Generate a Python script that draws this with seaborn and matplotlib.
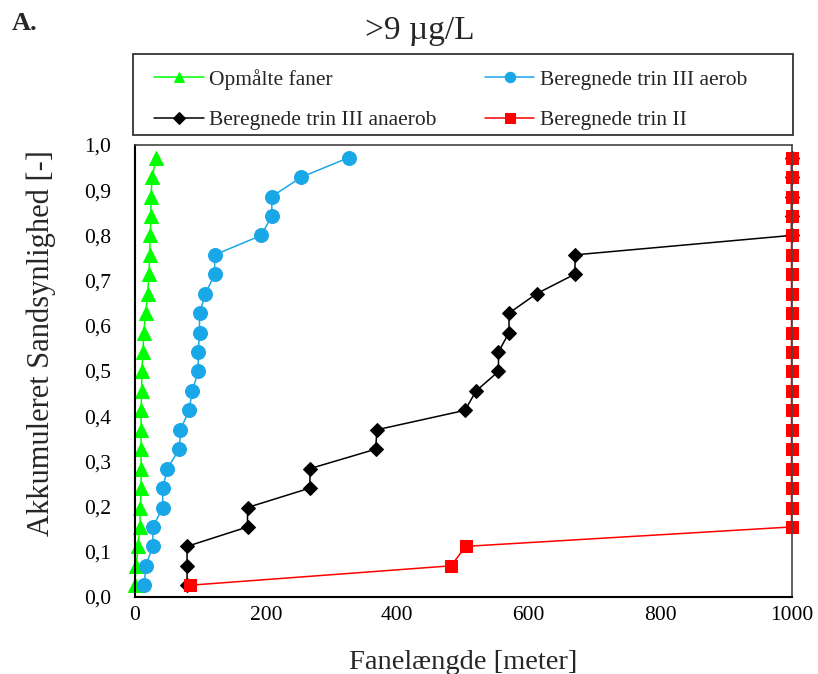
import matplotlib
matplotlib.use("Agg")
import matplotlib.pyplot as plt
from matplotlib.patches import Rectangle
import seaborn as sns
import pandas as pd

# ---- data ----
prob = [0.026, 0.069, 0.112, 0.155, 0.198, 0.241, 0.284, 0.327, 0.370, 0.413, 0.456, 0.499,
        0.542, 0.585, 0.628, 0.671, 0.714, 0.757, 0.800, 0.843, 0.886, 0.929, 0.972]

opmaalte = [0, 3, 5, 8, 9, 10, 10, 10, 10, 10, 11, 11, 13, 14, 17, 20, 22, 23, 24, 25, 25, 27, 33]
aerob = [15, 17, 28, 28, 43, 43, 50, 68, 70, 83, 88, 97, 97, 99, 99, 108, 122, 122, 193, 209, 209, 254, 326]
anaerob = [80, 80, 80, 172, 172, 267, 267, 367, 369, 503, 520, 554, 554, 570, 570, 612, 670, 671,
           1000, 1000, 1000, 1000, 1000]
trin2 = [84, 482, 504, 1000, 1000, 1000, 1000, 1000, 1000, 1000, 1000, 1000, 1000, 1000, 1000,
         1000, 1000, 1000, 1000, 1000, 1000, 1000, 1000]

series_names = ["Opmålte faner", "Beregnede trin III aerob", "Beregnede trin III anaerob", "Beregnede trin II"]
x_ticks = [0, 200, 400, 600, 800, 1000]
y_ticks = [0.0, 0.1, 0.2, 0.3, 0.4, 0.5, 0.6, 0.7, 0.8, 0.9, 1.0]
y_tick_labels = ["0,0", "0,1", "0,2", "0,3", "0,4", "0,5", "0,6", "0,7", "0,8", "0,9", "1,0"]
title = ">9 µg/L"
panel = "A."
xlabel = "Fanelængde [meter]"
ylabel = "Akkumuleret Sandsynlighed [-]"

# ---- style ----
sns.set_theme(style="white")
plt.rcParams["font.family"] = ["Liberation Serif", "DejaVu Serif"]

W, H = 818, 674
fig = plt.figure(figsize=(W / 100, H / 100), dpi=100)
ax = fig.add_axes([134.5 / W, 77 / H, (791.5 - 134.5) / W, (597 - 145) / H])

styles = [
    dict(color="#00FF00", marker="^", markersize=9.5, lw=1.1),
    dict(color="#1AA7E8", marker="o", markersize=10, lw=1.1),
    dict(color="#000000", marker="D", markersize=7.5, lw=1.1),
    dict(color="#FF0000", marker="s", markersize=9, lw=1.1),
]
xs = [opmaalte, aerob, anaerob, trin2]
for name, xv, st in zip(series_names, xs, styles):
    df = pd.DataFrame({"x": xv, "y": prob})
    sns.lineplot(data=df, x="x", y="y", ax=ax, sort=False, estimator=None,
                 color=st["color"], marker=st["marker"], markersize=st["markersize"],
                 markeredgecolor=st["color"], linewidth=st["lw"], label=name,
                 clip_on=False)

ax.set_xlim(0, 1000)
ax.set_ylim(0, 1.0)
ax.set_xticks(x_ticks)
ax.set_xticklabels([str(t) for t in x_ticks])
ax.set_yticks(y_ticks)
ax.set_yticklabels(y_tick_labels)
ax.tick_params(axis="x", direction="inout", length=7, width=1, colors="black", labelsize=15.5, pad=3)
ax.tick_params(axis="y", direction="out", length=5, width=1, colors="black", labelsize=15.5, pad=12)
for s in ["left", "bottom"]:
    ax.spines[s].set_color("black")
    ax.spines[s].set_linewidth(1.5)
for s in ["top", "right"]:
    ax.spines[s].set_color("#444444")
    ax.spines[s].set_linewidth(1.2)
ax.set_xlabel(xlabel, fontsize=20.5, labelpad=18)
ax.set_ylabel(ylabel, fontsize=22)
ax.yaxis.set_label_coords(-0.12, 0.562)
ax.grid(False)

# legend: Excel row-major order -> matplotlib column-major
h, l = ax.get_legend_handles_labels()
order = [0, 2, 1, 3]
if ax.get_legend():
    ax.get_legend().remove()
fs_leg = 15.5
leg = fig.legend([h[i] for i in order], [l[i] for i in order], ncol=2,
                 loc="upper left", bbox_to_anchor=(154 / W, 1 - 69 / H),
                 frameon=False, fontsize=fs_leg, markerscale=0.75,
                 handlelength=2.3, handletextpad=0.25, borderaxespad=0, borderpad=0,
                 columnspacing=2.25, labelspacing=0.95)
fig.patches.append(Rectangle((133 / W, 1 - 135 / H), (793 - 133) / W, (135 - 54) / H,
                             transform=fig.transFigure, fill=False,
                             edgecolor="#333333", linewidth=1.3))

fig.text(420 / W, 1 - 31 / H, title, ha="center", va="center", fontsize=24)
fig.text(12 / W, 1 - 24 / H, panel, ha="left", va="center", fontsize=19, fontweight="bold")

fig.savefig("out.png", dpi=100)
